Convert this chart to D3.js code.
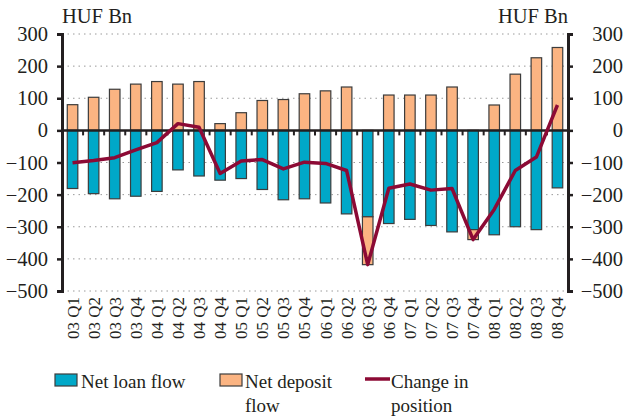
<!DOCTYPE html>
<html>
<head>
<meta charset="utf-8">
<script src="https://cdn.jsdelivr.net/npm/d3@7"></script>
<style>
  body { margin: 0; background: #fff; }
  svg text { font-family: "Liberation Serif", "DejaVu Serif", serif; fill: #231f20; }
</style>
</head>
<body>
<div id="chart"></div>
<script>
// Quarters, 2003 Q1 - 2008 Q4
var quarters = ["03 Q1","03 Q2","03 Q3","03 Q4","04 Q1","04 Q2","04 Q3","04 Q4",
                "05 Q1","05 Q2","05 Q3","05 Q4","06 Q1","06 Q2","06 Q3","06 Q4",
                "07 Q1","07 Q2","07 Q3","07 Q4","08 Q1","08 Q2","08 Q3","08 Q4"];

// Net loan flow (HUF Bn)
var loanFlow = [-181,-197,-213,-205,-190,-123,-142,-155,
                -150,-184,-216,-213,-226,-260,-269,-290,
                -277,-296,-316,-309,-325,-300,-309,-179];

// Net deposit flow (HUF Bn)
var depositFlow = [80,103,128,144,152,144,152,21,
                   55,93,96,114,123,135,-149,110,
                   110,110,135,-31,79,175,226,258];

// Change in position (HUF Bn)
var changePos = [-101,-94,-85,-61,-38,21,10,-134,
                 -95,-91,-120,-99,-103,-125,-418,-180,
                 -167,-186,-181,-340,-246,-125,-83,79];

var yTicks = [-500,-400,-300,-200,-100,0,100,200,300];

// Colours
var tealColor = "#00a8c8";
var orangeColor = "#fbb482";
var lineColor = "#8c0a35";
var outline = "#3c3c3c";

var svgWidth = 628, svgHeight = 418;
var margin = { top: 34, right: 60, bottom: 127, left: 62 };
var width = svgWidth - margin.left - margin.right;
var height = svgHeight - margin.top - margin.bottom;

var svg = d3.select("#chart").append("svg")
  .attr("width", svgWidth)
  .attr("height", svgHeight);

var chartGroup = svg.append("g")
  .attr("transform", `translate(${margin.left}, ${margin.top})`);

var x = d3.scaleBand()
  .domain(quarters)
  .range([0, width])
  .paddingInner(0.5)
  .paddingOuter(0.25);

var y = d3.scaleLinear()
  .domain([-500, 300])
  .range([height, 0]);

// Dotted gridlines
chartGroup.append("g")
  .selectAll("line")
  .data(yTicks.filter(d => d !== 0))
  .enter().append("line")
  .attr("x1", 0).attr("x2", width)
  .attr("y1", d => y(d)).attr("y2", d => y(d))
  .attr("stroke", "#9a9a9a")
  .attr("stroke-width", 1)
  .attr("stroke-dasharray", "1.5,4");

// Stacked bars: loans from zero, deposits stacked on the same sign side
var rows = quarters.map((q, i) => ({ q: q, loan: loanFlow[i], dep: depositFlow[i] }));

chartGroup.append("g")
  .selectAll("rect")
  .data(rows)
  .enter().append("rect")
  .attr("x", d => x(d.q))
  .attr("width", x.bandwidth())
  .attr("y", d => y(Math.max(0, d.loan)))
  .attr("height", d => Math.abs(y(d.loan) - y(0)))
  .attr("fill", tealColor)
  .attr("stroke", outline)
  .attr("stroke-width", 1.2);

chartGroup.append("g")
  .selectAll("rect")
  .data(rows)
  .enter().append("rect")
  .attr("x", d => x(d.q))
  .attr("width", x.bandwidth())
  .attr("y", d => d.dep >= 0 ? y(d.dep) : y(d.loan))
  .attr("height", d => Math.abs(y(d.dep) - y(0)))
  .attr("fill", orangeColor)
  .attr("stroke", outline)
  .attr("stroke-width", 1.2);

// Zero line with small ticks between categories
chartGroup.append("line")
  .attr("x1", 0).attr("x2", width)
  .attr("y1", y(0)).attr("y2", y(0))
  .attr("stroke", "#231f20")
  .attr("stroke-width", 2.5);

chartGroup.append("g")
  .selectAll("line")
  .data(quarters.slice(1))
  .enter().append("line")
  .attr("x1", d => x(d) - x.step() * x.paddingInner() / 2)
  .attr("x2", d => x(d) - x.step() * x.paddingInner() / 2)
  .attr("y1", y(0)).attr("y2", y(0) + 5)
  .attr("stroke", "#231f20")
  .attr("stroke-width", 2);

// Change in position line
var line = d3.line()
  .x((d, i) => x(quarters[i]) + x.bandwidth() / 2)
  .y(d => y(d));

chartGroup.append("path")
  .datum(changePos)
  .attr("d", line)
  .attr("fill", "none")
  .attr("stroke", lineColor)
  .attr("stroke-width", 3.5)
  .attr("stroke-linejoin", "round");

// Y axes (left and right)
var leftAxis = d3.axisLeft(y).tickValues(yTicks).tickSize(5).tickPadding(9);
var rightAxis = d3.axisRight(y).tickValues(yTicks).tickSize(5).tickPadding(9);

var gLeft = chartGroup.append("g").call(leftAxis);
var gRight = chartGroup.append("g")
  .attr("transform", `translate(${width}, 0)`)
  .call(rightAxis);

[gLeft, gRight].forEach(g => {
  g.select(".domain").attr("stroke", "#231f20").attr("stroke-width", 3);
  g.selectAll(".tick line").attr("stroke", "#231f20").attr("stroke-width", 2.5);
  g.selectAll(".tick text")
    .style("font-size", "20.5px")
    .attr("fill", "#231f20");
});
gRight.selectAll(".tick text")
  .attr("text-anchor", "end")
  .attr("x", svgWidth - 5 - margin.left - width);

// X axis labels (rotated)
chartGroup.append("g")
  .selectAll("text")
  .data(quarters)
  .enter().append("text")
  .attr("transform", d => `translate(${x(d) + x.bandwidth() / 2 + 6}, ${height + 6}) rotate(-90)`)
  .attr("text-anchor", "end")
  .style("font-size", "17px")
  .text(d => d);

// Unit labels
svg.append("text")
  .attr("x", margin.left)
  .attr("y", 23)
  .style("font-size", "20.5px")
  .text("HUF Bn");

svg.append("text")
  .attr("x", margin.left + width)
  .attr("y", 23)
  .attr("text-anchor", "end")
  .style("font-size", "20.5px")
  .text("HUF Bn");

// Legend
var legend = svg.append("g");

legend.append("rect")
  .attr("x", 55).attr("y", 374).attr("width", 22).attr("height", 12)
  .attr("fill", tealColor).attr("stroke", outline).attr("stroke-width", 1.2);
legend.append("text")
  .attr("x", 81).attr("y", 388).style("font-size", "19px")
  .text("Net loan flow");

legend.append("rect")
  .attr("x", 220).attr("y", 374).attr("width", 22).attr("height", 12)
  .attr("fill", orangeColor).attr("stroke", outline).attr("stroke-width", 1.2);
legend.append("text")
  .attr("x", 245).attr("y", 388).style("font-size", "19px")
  .text("Net deposit");
legend.append("text")
  .attr("x", 245).attr("y", 412).style("font-size", "19px")
  .text("flow");

legend.append("line")
  .attr("x1", 365).attr("x2", 390).attr("y1", 379).attr("y2", 379)
  .attr("stroke", lineColor).attr("stroke-width", 3.5);
legend.append("text")
  .attr("x", 391).attr("y", 388).style("font-size", "19px")
  .text("Change in");
legend.append("text")
  .attr("x", 391).attr("y", 412).style("font-size", "19px")
  .text("position");
</script>
</body>
</html>
